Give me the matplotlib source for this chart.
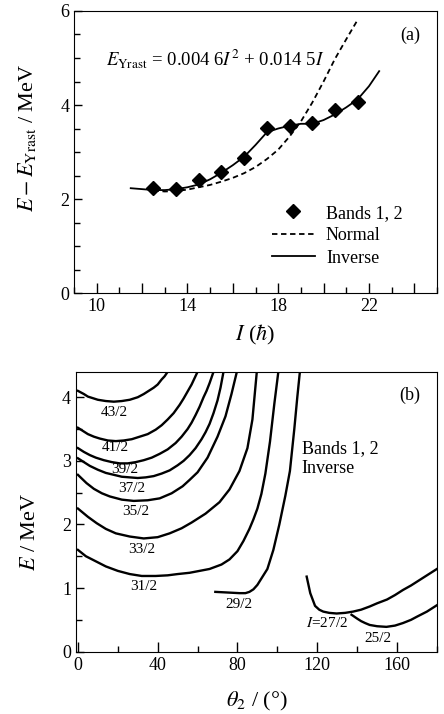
import numpy as np
import matplotlib
matplotlib.use('Agg')
import matplotlib.pyplot as plt
from matplotlib.ticker import MultipleLocator, FuncFormatter

plt.rcParams['font.family'] = ['Liberation Serif', 'DejaVu Serif']
plt.rcParams['mathtext.fontset'] = 'stix'

# (a) data
spin_exp = [12.5, 13.5, 14.5, 15.5, 16.5, 17.5, 18.5, 19.5, 20.5, 21.5]
e_exp = [2.24, 2.21, 2.41, 2.57, 2.87, 3.52, 3.55, 3.62, 3.89, 4.07]

spin_normal = [12.5, 13.0, 13.5, 14.0, 14.5, 15.0, 15.5, 16.0, 16.5, 17.0,
               17.5, 18.0, 18.5, 19.0, 19.5, 20.0, 20.5, 21.0, 21.45]
e_normal = [2.18, 2.16, 2.17, 2.2, 2.25, 2.3, 2.37, 2.45, 2.55, 2.68,
            2.85, 3.05, 3.33, 3.65, 4.05, 4.5, 4.98, 5.4, 5.77]

spin_inverse = [11.5, 12.0, 12.5, 13.0, 13.5, 14.0, 14.5, 15.0, 15.5, 16.0,
                16.5, 17.0, 17.5, 18.0, 18.5, 19.0, 19.5, 20.0, 20.5, 21.0,
                21.5, 22.0, 22.45]
e_inverse = [2.23, 2.21, 2.19, 2.19, 2.21, 2.25, 2.31, 2.42, 2.56, 2.72,
             2.9, 3.15, 3.42, 3.5, 3.56, 3.6, 3.6, 3.68, 3.8, 3.95,
             4.12, 4.4, 4.72]

# (b) data: E vs theta_2 for each spin
curves_b = {
    '43/2': ([0, 3, 5, 8, 10, 14, 18, 22, 26, 30, 33, 36, 38, 40, 42, 43.5, 45],
             [4.1, 4.05, 4.01, 3.98, 3.96, 3.94, 3.93, 3.94, 3.96, 4.0, 4.05,
              4.11, 4.15, 4.2, 4.28, 4.33, 4.4]),
    '41/2': ([0, 3, 5, 8, 11, 15, 19, 23, 27, 31, 35, 39, 42, 45, 48, 51, 53,
              55, 57, 58.5, 60],
             [3.52, 3.46, 3.42, 3.38, 3.35, 3.32, 3.31, 3.32, 3.34, 3.38, 3.42,
              3.49, 3.56, 3.65, 3.75, 3.88, 3.98, 4.09, 4.2, 4.3, 4.4]),
    '39/2': ([0, 3, 6, 9, 13, 17, 21, 25, 29, 33, 37, 41, 45, 49, 52, 55, 57,
              59, 61, 63, 64.5, 66, 68],
             [3.2, 3.14, 3.09, 3.05, 3.01, 2.98, 2.96, 2.96, 2.98, 3.01, 3.05,
              3.11, 3.18, 3.28, 3.38, 3.5, 3.6, 3.72, 3.85, 4.0, 4.1, 4.22, 4.4]),
    '37/2': ([0, 3, 6, 10, 14, 18, 22, 26, 30, 34, 38, 42, 46, 50, 53, 56, 59,
              62, 64, 66, 68, 70, 71.5, 73],
             [3.04, 2.98, 2.92, 2.86, 2.81, 2.78, 2.75, 2.74, 2.73, 2.74, 2.76,
              2.8, 2.85, 2.93, 3.0, 3.09, 3.2, 3.34, 3.45, 3.58, 3.75, 3.95,
              4.15, 4.4]),
    '35/2': ([0, 4.3, 8, 12, 16, 22, 28, 35, 41, 47, 52.5, 56, 60, 65, 70, 74,
              77, 79.7],
             [2.78, 2.65, 2.56, 2.49, 2.44, 2.39, 2.37, 2.38, 2.41, 2.49, 2.6,
              2.7, 2.82, 3.05, 3.38, 3.7, 4.05, 4.4]),
    '33/2': ([0, 5, 9.4, 14, 19, 26, 33, 40, 46, 52, 57, 64, 71, 76, 81, 85,
              87.5, 89.7],
             [2.25, 2.12, 2.02, 1.93, 1.86, 1.81, 1.78, 1.8, 1.86, 1.94, 2.03,
              2.17, 2.35, 2.55, 2.84, 3.2, 3.65, 4.4]),
    '31/2': ([0, 4, 9, 14, 20, 26, 32, 39, 45, 50, 56, 61, 66, 72, 76, 80, 83,
              86, 88, 90, 92, 94, 96.3, 98.5, 100.5],
             [1.6, 1.5, 1.42, 1.34, 1.27, 1.22, 1.19, 1.19, 1.2, 1.22, 1.24,
              1.27, 1.3, 1.37, 1.45, 1.58, 1.74, 1.93, 2.08, 2.25, 2.48, 2.8,
              3.3, 3.9, 4.4]),
    '29/2': ([68.9, 75, 81, 84, 86, 88, 90, 92, 95, 98, 101, 104, 106.3, 108.5,
              110, 111.3],
             [0.94, 0.93, 0.92, 0.92, 0.94, 0.98, 1.05, 1.15, 1.3, 1.6, 2.0,
              2.45, 2.84, 3.5, 4.0, 4.4]),
    '27/2': ([114.7, 116.5, 118.9, 121, 123, 126, 129.7, 134, 138, 142, 146.3,
              150, 155, 159, 163, 167, 171, 175, 180],
             [1.18, 0.92, 0.72, 0.66, 0.63, 0.61, 0.6, 0.61, 0.63, 0.66, 0.71,
              0.76, 0.82, 0.89, 0.97, 1.04, 1.12, 1.2, 1.3]),
    '25/2': ([137.2, 140, 142, 144, 146.3, 150, 154.7, 159, 163, 167, 170, 175,
              180],
             [0.58, 0.52, 0.48, 0.45, 0.42, 0.4, 0.39, 0.41, 0.45, 0.5, 0.55,
              0.63, 0.73]),
}
label_text = {'43/2': '43/2', '41/2': '41/2', '39/2': '39/2', '37/2': '37/2',
              '35/2': '35/2', '33/2': '33/2', '31/2': '31/2', '29/2': '29/2',
              '27/2': r'$I$=27/2', '25/2': '25/2'}
label_pos = {'43/2': (18, 3.76), '41/2': (19, 3.21), '39/2': (23.4, 2.87),
             '37/2': (27.2, 2.56), '35/2': (28.9, 2.20), '33/2': (32.2, 1.61),
             '31/2': (33, 1.02), '29/2': (80.5, 0.745), '27/2': (124.7, 0.45),
             '25/2': (150.5, 0.21)}

fig = plt.figure(figsize=(4.44, 7.14), dpi=100)

# ---------- panel (a)
ax1 = fig.add_axes([0.1667, 0.5896, 0.8176, 0.395])
ax1.plot(spin_normal, e_normal, 'k--', lw=1.3, dashes=(3, 2), label='Normal')
ax1.plot(spin_inverse, e_inverse, 'k-', lw=1.3, label='Inverse')
ax1.plot(spin_exp, e_exp, 'kD', ms=7, label='Bands 1, 2')
ax1.set_xlim(9, 25)
ax1.set_ylim(0, 6)
ax1.xaxis.set_major_locator(MultipleLocator(2))
ax1.xaxis.set_minor_locator(MultipleLocator(1))
ax1.xaxis.set_major_formatter(FuncFormatter(
    lambda v, p: '%d' % v if int(round(v)) in (10, 14, 18, 22) else ''))
ax1.yaxis.set_major_locator(MultipleLocator(2))
ax1.yaxis.set_minor_locator(MultipleLocator(0.5))
ax1.tick_params(which='major', direction='in', labelsize=13, length=7, width=1)
ax1.tick_params(axis='y', which='major', length=6)
ax1.tick_params(which='minor', direction='in', length=4, width=1)
ax1.set_xlabel(r'$I$ ($\hbar$)', fontsize=16, labelpad=6)
ax1.set_ylabel(r'$E - E_{\mathrm{Yrast}}$ / MeV', fontsize=16)
ax1.yaxis.set_label_coords(-0.10, 0.55)
ax1.text(10.4, 5.0, r'$E_{\mathrm{Yrast}}$ = 0.004 6$I^{2}$ + 0.014 5$I$',
         fontsize=13.5, va='center')
ax1.text(0.955, 0.915, '(a)', transform=ax1.transAxes, fontsize=13,
         ha='right', va='center')
h, l = ax1.get_legend_handles_labels()
order = [2, 0, 1]
ax1.legend([h[i] for i in order], [l[i] for i in order], loc='upper left',
           bbox_to_anchor=(0.52, 0.345), frameon=False, fontsize=13,
           handlelength=2.4, handletextpad=0.6, labelspacing=0.3, borderpad=0)

# ---------- panel (b)
ax2 = fig.add_axes([0.171, 0.0873, 0.813, 0.392])
for key, (th, en) in curves_b.items():
    ax2.plot(th, en, 'k-', lw=1.7)
    x, y = label_pos[key]
    ax2.text(x, y, label_text[key], fontsize=11, ha='center', va='center')
ax2.text(112.2, 3.04, 'Bands 1, 2\nInverse', fontsize=13, ha='left',
         va='center', linespacing=1.2)
ax2.text(0.955, 0.915, '(b)', transform=ax2.transAxes, fontsize=13,
         ha='right', va='center')
ax2.set_xlim(-1, 180)
ax2.set_ylim(0, 4.4)
ax2.xaxis.set_major_locator(MultipleLocator(40))
ax2.xaxis.set_minor_locator(MultipleLocator(20))
ax2.yaxis.set_major_locator(MultipleLocator(1))
ax2.yaxis.set_minor_locator(MultipleLocator(0.5))
ax2.tick_params(which='major', direction='in', labelsize=13, length=7, width=1)
ax2.tick_params(axis='y', which='major', length=6)
ax2.tick_params(which='minor', direction='in', length=4, width=1)
ax2.set_xlabel(r'$\theta_2$ / (°)', fontsize=16, labelpad=12)
ax2.set_ylabel(r'$E$ / MeV', fontsize=16)
ax2.yaxis.set_label_coords(-0.10, 0.43)

fig.savefig('out.png', dpi=100)
